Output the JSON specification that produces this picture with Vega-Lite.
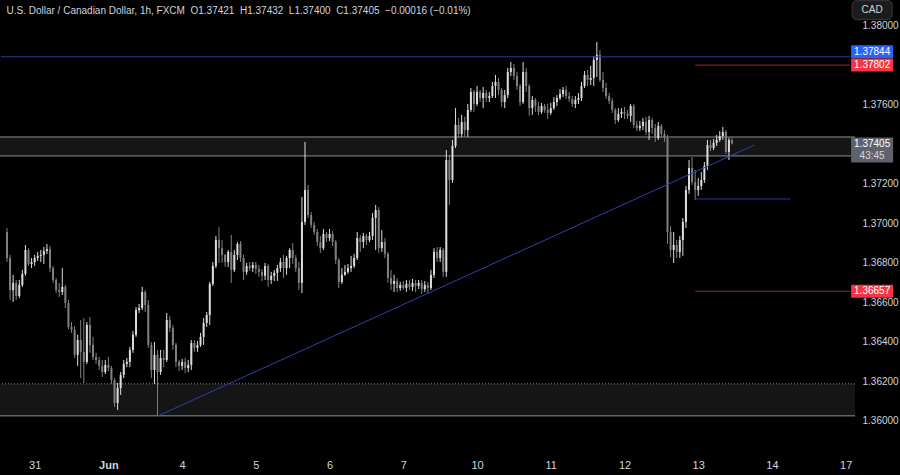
{
"$schema": "https://vega.github.io/schema/vega-lite/v6.json",
"width": 855, "height": 450,
"autosize": {"type": "none"},
"padding": {"left": 0, "top": 0, "right": 45, "bottom": 25},
"background": "#000000",
"config": {"view": {"stroke": null}, "font": "Liberation Sans", "axis": {"labelFont": "Liberation Sans"}},
"title": {"text": "U.S. Dollar / Canadian Dollar, 1h, FXCM \u00a0O1.37421 \u00a0H1.37432 \u00a0L1.37400 \u00a0C1.37405 \u00a0\u22120.00016 (\u22120.01%)", "anchor": "start", "orient": "top", "offset": -16, "dx": 7, "fontSize": 10, "fontWeight": "normal", "color": "#d1d4dc", "font": "Liberation Sans"},
"datasets": {
"candles": [
{"t":-9,"o":1.36957,"h":1.36977,"l":1.36805,"c":1.36825},
{"t":-8,"o":1.36825,"h":1.36841,"l":1.36613,"c":1.36663},
{"t":-7,"o":1.36663,"h":1.36740,"l":1.36603,"c":1.36699},
{"t":-6,"o":1.36699,"h":1.36714,"l":1.36613,"c":1.36633},
{"t":-5,"o":1.36633,"h":1.36714,"l":1.36622,"c":1.36689},
{"t":-4,"o":1.36689,"h":1.36765,"l":1.36679,"c":1.36745},
{"t":-3,"o":1.36745,"h":1.36891,"l":1.36735,"c":1.36866},
{"t":-2,"o":1.36866,"h":1.36875,"l":1.36785,"c":1.36795},
{"t":-1,"o":1.36795,"h":1.36825,"l":1.36774,"c":1.36805},
{"t":0,"o":1.36805,"h":1.36841,"l":1.36785,"c":1.36825},
{"t":1,"o":1.36825,"h":1.36856,"l":1.36810,"c":1.36836},
{"t":2,"o":1.36836,"h":1.36866,"l":1.36805,"c":1.36841},
{"t":3,"o":1.36841,"h":1.36881,"l":1.36795,"c":1.36861},
{"t":4,"o":1.36861,"h":1.36896,"l":1.36846,"c":1.36870},
{"t":5,"o":1.36870,"h":1.36886,"l":1.36755,"c":1.36774},
{"t":6,"o":1.36774,"h":1.36785,"l":1.36699,"c":1.36714},
{"t":7,"o":1.36714,"h":1.36724,"l":1.36648,"c":1.36663},
{"t":8,"o":1.36663,"h":1.36699,"l":1.36628,"c":1.36653},
{"t":9,"o":1.36653,"h":1.36774,"l":1.36638,"c":1.36679},
{"t":10,"o":1.36679,"h":1.36689,"l":1.36572,"c":1.36598},
{"t":11,"o":1.36598,"h":1.36613,"l":1.36465,"c":1.36476},
{"t":12,"o":1.36476,"h":1.36501,"l":1.36446,"c":1.36461},
{"t":13,"o":1.36461,"h":1.36481,"l":1.36319,"c":1.36335},
{"t":14,"o":1.36335,"h":1.36436,"l":1.36279,"c":1.36410},
{"t":15,"o":1.36410,"h":1.36511,"l":1.36217,"c":1.36350},
{"t":16,"o":1.36350,"h":1.36521,"l":1.36193,"c":1.36299},
{"t":17,"o":1.36299,"h":1.36501,"l":1.36289,"c":1.36486},
{"t":18,"o":1.36486,"h":1.36527,"l":1.36345,"c":1.36385},
{"t":19,"o":1.36385,"h":1.36426,"l":1.36309,"c":1.36324},
{"t":20,"o":1.36324,"h":1.36345,"l":1.36289,"c":1.36309},
{"t":21,"o":1.36309,"h":1.36324,"l":1.36258,"c":1.36279},
{"t":22,"o":1.36279,"h":1.36309,"l":1.36223,"c":1.36248},
{"t":23,"o":1.36248,"h":1.36309,"l":1.36238,"c":1.36284},
{"t":24,"o":1.36284,"h":1.36324,"l":1.36253,"c":1.36268},
{"t":25,"o":1.36268,"h":1.36279,"l":1.36188,"c":1.36208},
{"t":26,"o":1.36208,"h":1.36217,"l":1.36071,"c":1.36091},
{"t":27,"o":1.36091,"h":1.36193,"l":1.36056,"c":1.36167},
{"t":28,"o":1.36167,"h":1.36248,"l":1.36132,"c":1.36233},
{"t":29,"o":1.36233,"h":1.36309,"l":1.36217,"c":1.36289},
{"t":30,"o":1.36289,"h":1.36319,"l":1.36273,"c":1.36299},
{"t":31,"o":1.36299,"h":1.36375,"l":1.36273,"c":1.36360},
{"t":32,"o":1.36360,"h":1.36456,"l":1.36345,"c":1.36436},
{"t":33,"o":1.36436,"h":1.36577,"l":1.36426,"c":1.36562},
{"t":34,"o":1.36562,"h":1.36593,"l":1.36547,"c":1.36572},
{"t":35,"o":1.36572,"h":1.36679,"l":1.36562,"c":1.36653},
{"t":36,"o":1.36653,"h":1.36663,"l":1.36552,"c":1.36588},
{"t":37,"o":1.36588,"h":1.36613,"l":1.36370,"c":1.36385},
{"t":38,"o":1.36385,"h":1.36400,"l":1.36217,"c":1.36258},
{"t":39,"o":1.36258,"h":1.36400,"l":1.36188,"c":1.36335},
{"t":40,"o":1.36335,"h":1.36360,"l":1.36026,"c":1.36248},
{"t":41,"o":1.36248,"h":1.36360,"l":1.36233,"c":1.36319},
{"t":42,"o":1.36319,"h":1.36360,"l":1.36273,"c":1.36309},
{"t":43,"o":1.36309,"h":1.36547,"l":1.36299,"c":1.36511},
{"t":44,"o":1.36511,"h":1.36532,"l":1.36451,"c":1.36471},
{"t":45,"o":1.36471,"h":1.36486,"l":1.36360,"c":1.36385},
{"t":46,"o":1.36385,"h":1.36395,"l":1.36273,"c":1.36299},
{"t":47,"o":1.36299,"h":1.36309,"l":1.36253,"c":1.36279},
{"t":48,"o":1.36279,"h":1.36314,"l":1.36258,"c":1.36299},
{"t":49,"o":1.36299,"h":1.36319,"l":1.36243,"c":1.36268},
{"t":50,"o":1.36268,"h":1.36309,"l":1.36248,"c":1.36284},
{"t":51,"o":1.36284,"h":1.36410,"l":1.36258,"c":1.36395},
{"t":52,"o":1.36395,"h":1.36410,"l":1.36350,"c":1.36370},
{"t":53,"o":1.36370,"h":1.36405,"l":1.36350,"c":1.36385},
{"t":54,"o":1.36385,"h":1.36446,"l":1.36375,"c":1.36426},
{"t":55,"o":1.36426,"h":1.36521,"l":1.36385,"c":1.36496},
{"t":56,"o":1.36496,"h":1.36552,"l":1.36476,"c":1.36537},
{"t":57,"o":1.36537,"h":1.36704,"l":1.36486,"c":1.36694},
{"t":58,"o":1.36694,"h":1.36805,"l":1.36684,"c":1.36785},
{"t":59,"o":1.36785,"h":1.36937,"l":1.36774,"c":1.36916},
{"t":60,"o":1.36916,"h":1.36982,"l":1.36800,"c":1.36875},
{"t":61,"o":1.36875,"h":1.36916,"l":1.36800,"c":1.36841},
{"t":62,"o":1.36841,"h":1.36846,"l":1.36780,"c":1.36805},
{"t":63,"o":1.36805,"h":1.36866,"l":1.36780,"c":1.36856},
{"t":64,"o":1.36856,"h":1.36942,"l":1.36699,"c":1.36765},
{"t":65,"o":1.36765,"h":1.36866,"l":1.36755,"c":1.36841},
{"t":66,"o":1.36841,"h":1.36906,"l":1.36815,"c":1.36896},
{"t":67,"o":1.36896,"h":1.36911,"l":1.36805,"c":1.36825},
{"t":68,"o":1.36825,"h":1.36841,"l":1.36714,"c":1.36755},
{"t":69,"o":1.36755,"h":1.36800,"l":1.36740,"c":1.36785},
{"t":70,"o":1.36785,"h":1.36805,"l":1.36760,"c":1.36774},
{"t":71,"o":1.36774,"h":1.36805,"l":1.36755,"c":1.36790},
{"t":72,"o":1.36790,"h":1.36805,"l":1.36745,"c":1.36769},
{"t":73,"o":1.36769,"h":1.36790,"l":1.36730,"c":1.36755},
{"t":74,"o":1.36755,"h":1.36769,"l":1.36709,"c":1.36735},
{"t":75,"o":1.36735,"h":1.36800,"l":1.36714,"c":1.36785},
{"t":76,"o":1.36785,"h":1.36795,"l":1.36679,"c":1.36714},
{"t":77,"o":1.36714,"h":1.36755,"l":1.36694,"c":1.36735},
{"t":78,"o":1.36735,"h":1.36765,"l":1.36709,"c":1.36750},
{"t":79,"o":1.36750,"h":1.36790,"l":1.36709,"c":1.36774},
{"t":80,"o":1.36774,"h":1.36825,"l":1.36755,"c":1.36805},
{"t":81,"o":1.36805,"h":1.36841,"l":1.36724,"c":1.36774},
{"t":82,"o":1.36774,"h":1.36836,"l":1.36740,"c":1.36825},
{"t":83,"o":1.36825,"h":1.36875,"l":1.36774,"c":1.36866},
{"t":84,"o":1.36866,"h":1.36901,"l":1.36795,"c":1.36825},
{"t":85,"o":1.36825,"h":1.36841,"l":1.36755,"c":1.36774},
{"t":86,"o":1.36774,"h":1.36805,"l":1.36663,"c":1.36699},
{"t":87,"o":1.36699,"h":1.37134,"l":1.36648,"c":1.37008},
{"t":88,"o":1.37008,"h":1.37413,"l":1.36993,"c":1.37170},
{"t":89,"o":1.37170,"h":1.37195,"l":1.37028,"c":1.37043},
{"t":90,"o":1.37043,"h":1.37058,"l":1.36977,"c":1.36993},
{"t":91,"o":1.36993,"h":1.37008,"l":1.36942,"c":1.36957},
{"t":92,"o":1.36957,"h":1.36972,"l":1.36886,"c":1.36906},
{"t":93,"o":1.36906,"h":1.36937,"l":1.36851,"c":1.36875},
{"t":94,"o":1.36875,"h":1.36972,"l":1.36866,"c":1.36947},
{"t":95,"o":1.36947,"h":1.36957,"l":1.36906,"c":1.36926},
{"t":96,"o":1.36926,"h":1.36972,"l":1.36911,"c":1.36947},
{"t":97,"o":1.36947,"h":1.36962,"l":1.36886,"c":1.36906},
{"t":98,"o":1.36906,"h":1.36916,"l":1.36795,"c":1.36815},
{"t":99,"o":1.36815,"h":1.36825,"l":1.36673,"c":1.36704},
{"t":100,"o":1.36704,"h":1.36774,"l":1.36694,"c":1.36740},
{"t":101,"o":1.36740,"h":1.36790,"l":1.36735,"c":1.36755},
{"t":102,"o":1.36755,"h":1.36795,"l":1.36745,"c":1.36774},
{"t":103,"o":1.36774,"h":1.36836,"l":1.36755,"c":1.36785},
{"t":104,"o":1.36785,"h":1.36846,"l":1.36774,"c":1.36825},
{"t":105,"o":1.36825,"h":1.36957,"l":1.36815,"c":1.36926},
{"t":106,"o":1.36926,"h":1.36942,"l":1.36856,"c":1.36906},
{"t":107,"o":1.36906,"h":1.36952,"l":1.36875,"c":1.36937},
{"t":108,"o":1.36937,"h":1.36947,"l":1.36891,"c":1.36916},
{"t":109,"o":1.36916,"h":1.36957,"l":1.36906,"c":1.36937},
{"t":110,"o":1.36937,"h":1.37053,"l":1.36916,"c":1.37028},
{"t":111,"o":1.37028,"h":1.37094,"l":1.36866,"c":1.37068},
{"t":112,"o":1.37068,"h":1.37083,"l":1.36851,"c":1.36875},
{"t":113,"o":1.36875,"h":1.36967,"l":1.36856,"c":1.36906},
{"t":114,"o":1.36906,"h":1.36926,"l":1.36825,"c":1.36846},
{"t":115,"o":1.36846,"h":1.36856,"l":1.36699,"c":1.36724},
{"t":116,"o":1.36724,"h":1.36765,"l":1.36663,"c":1.36694},
{"t":117,"o":1.36694,"h":1.36740,"l":1.36653,"c":1.36709},
{"t":118,"o":1.36709,"h":1.36724,"l":1.36653,"c":1.36673},
{"t":119,"o":1.36673,"h":1.36704,"l":1.36658,"c":1.36689},
{"t":120,"o":1.36689,"h":1.36709,"l":1.36663,"c":1.36673},
{"t":121,"o":1.36673,"h":1.36714,"l":1.36653,"c":1.36694},
{"t":122,"o":1.36694,"h":1.36714,"l":1.36663,"c":1.36679},
{"t":123,"o":1.36679,"h":1.36719,"l":1.36658,"c":1.36699},
{"t":124,"o":1.36699,"h":1.36714,"l":1.36653,"c":1.36684},
{"t":125,"o":1.36684,"h":1.36714,"l":1.36668,"c":1.36699},
{"t":126,"o":1.36699,"h":1.36714,"l":1.36643,"c":1.36668},
{"t":127,"o":1.36668,"h":1.36709,"l":1.36653,"c":1.36689},
{"t":128,"o":1.36689,"h":1.36704,"l":1.36643,"c":1.36673},
{"t":129,"o":1.36673,"h":1.36765,"l":1.36663,"c":1.36740},
{"t":130,"o":1.36740,"h":1.36875,"l":1.36724,"c":1.36856},
{"t":131,"o":1.36856,"h":1.36881,"l":1.36805,"c":1.36825},
{"t":132,"o":1.36825,"h":1.36881,"l":1.36805,"c":1.36866},
{"t":133,"o":1.36866,"h":1.36875,"l":1.36730,"c":1.36755},
{"t":134,"o":1.36755,"h":1.37372,"l":1.36730,"c":1.37321},
{"t":135,"o":1.37321,"h":1.37347,"l":1.37094,"c":1.37220},
{"t":136,"o":1.37220,"h":1.37423,"l":1.37205,"c":1.37393},
{"t":137,"o":1.37393,"h":1.37585,"l":1.37382,"c":1.37499},
{"t":138,"o":1.37499,"h":1.37534,"l":1.37433,"c":1.37453},
{"t":139,"o":1.37453,"h":1.37550,"l":1.37438,"c":1.37514},
{"t":140,"o":1.37514,"h":1.37540,"l":1.37438,"c":1.37473},
{"t":141,"o":1.37473,"h":1.37605,"l":1.37438,"c":1.37575},
{"t":142,"o":1.37575,"h":1.37686,"l":1.37565,"c":1.37666},
{"t":143,"o":1.37666,"h":1.37676,"l":1.37565,"c":1.37605},
{"t":144,"o":1.37605,"h":1.37696,"l":1.37595,"c":1.37666},
{"t":145,"o":1.37666,"h":1.37676,"l":1.37615,"c":1.37635},
{"t":146,"o":1.37635,"h":1.37691,"l":1.37584,"c":1.37661},
{"t":147,"o":1.37661,"h":1.37676,"l":1.37615,"c":1.37635},
{"t":148,"o":1.37635,"h":1.37666,"l":1.37615,"c":1.37645},
{"t":149,"o":1.37645,"h":1.37717,"l":1.37635,"c":1.37696},
{"t":150,"o":1.37696,"h":1.37752,"l":1.37635,"c":1.37717},
{"t":151,"o":1.37717,"h":1.37737,"l":1.37650,"c":1.37676},
{"t":152,"o":1.37676,"h":1.37686,"l":1.37590,"c":1.37615},
{"t":153,"o":1.37615,"h":1.37676,"l":1.37584,"c":1.37650},
{"t":154,"o":1.37650,"h":1.37787,"l":1.37635,"c":1.37767},
{"t":155,"o":1.37767,"h":1.37818,"l":1.37747,"c":1.37787},
{"t":156,"o":1.37787,"h":1.37808,"l":1.37727,"c":1.37747},
{"t":157,"o":1.37747,"h":1.37767,"l":1.37676,"c":1.37696},
{"t":158,"o":1.37696,"h":1.37706,"l":1.37595,"c":1.37615},
{"t":159,"o":1.37615,"h":1.37818,"l":1.37605,"c":1.37767},
{"t":160,"o":1.37767,"h":1.37787,"l":1.37666,"c":1.37696},
{"t":161,"o":1.37696,"h":1.37706,"l":1.37545,"c":1.37584},
{"t":162,"o":1.37584,"h":1.37645,"l":1.37550,"c":1.37625},
{"t":163,"o":1.37625,"h":1.37635,"l":1.37565,"c":1.37595},
{"t":164,"o":1.37595,"h":1.37615,"l":1.37550,"c":1.37565},
{"t":165,"o":1.37565,"h":1.37610,"l":1.37555,"c":1.37595},
{"t":166,"o":1.37595,"h":1.37605,"l":1.37560,"c":1.37575},
{"t":167,"o":1.37575,"h":1.37605,"l":1.37529,"c":1.37560},
{"t":168,"o":1.37560,"h":1.37610,"l":1.37550,"c":1.37584},
{"t":169,"o":1.37584,"h":1.37640,"l":1.37575,"c":1.37615},
{"t":170,"o":1.37615,"h":1.37650,"l":1.37595,"c":1.37635},
{"t":171,"o":1.37635,"h":1.37681,"l":1.37625,"c":1.37656},
{"t":172,"o":1.37656,"h":1.37691,"l":1.37640,"c":1.37676},
{"t":173,"o":1.37676,"h":1.37696,"l":1.37630,"c":1.37645},
{"t":174,"o":1.37645,"h":1.37666,"l":1.37615,"c":1.37630},
{"t":175,"o":1.37630,"h":1.37645,"l":1.37590,"c":1.37605},
{"t":176,"o":1.37605,"h":1.37645,"l":1.37584,"c":1.37625},
{"t":177,"o":1.37625,"h":1.37661,"l":1.37605,"c":1.37635},
{"t":178,"o":1.37635,"h":1.37717,"l":1.37620,"c":1.37696},
{"t":179,"o":1.37696,"h":1.37772,"l":1.37686,"c":1.37752},
{"t":180,"o":1.37752,"h":1.37777,"l":1.37696,"c":1.37727},
{"t":181,"o":1.37727,"h":1.37798,"l":1.37701,"c":1.37737},
{"t":182,"o":1.37737,"h":1.37848,"l":1.37696,"c":1.37828},
{"t":183,"o":1.37828,"h":1.37919,"l":1.37742,"c":1.37853},
{"t":184,"o":1.37853,"h":1.37878,"l":1.37717,"c":1.37727},
{"t":185,"o":1.37727,"h":1.37767,"l":1.37666,"c":1.37686},
{"t":186,"o":1.37686,"h":1.37712,"l":1.37630,"c":1.37645},
{"t":187,"o":1.37645,"h":1.37661,"l":1.37605,"c":1.37620},
{"t":188,"o":1.37620,"h":1.37635,"l":1.37560,"c":1.37575},
{"t":189,"o":1.37575,"h":1.37584,"l":1.37504,"c":1.37524},
{"t":190,"o":1.37524,"h":1.37584,"l":1.37514,"c":1.37555},
{"t":191,"o":1.37555,"h":1.37584,"l":1.37534,"c":1.37565},
{"t":192,"o":1.37565,"h":1.37590,"l":1.37529,"c":1.37555},
{"t":193,"o":1.37555,"h":1.37575,"l":1.37529,"c":1.37545},
{"t":194,"o":1.37545,"h":1.37605,"l":1.37514,"c":1.37595},
{"t":195,"o":1.37595,"h":1.37605,"l":1.37483,"c":1.37499},
{"t":196,"o":1.37499,"h":1.37519,"l":1.37468,"c":1.37483},
{"t":197,"o":1.37483,"h":1.37519,"l":1.37468,"c":1.37494},
{"t":198,"o":1.37494,"h":1.37534,"l":1.37473,"c":1.37514},
{"t":199,"o":1.37514,"h":1.37540,"l":1.37448,"c":1.37463},
{"t":200,"o":1.37463,"h":1.37545,"l":1.37423,"c":1.37524},
{"t":201,"o":1.37524,"h":1.37534,"l":1.37453,"c":1.37483},
{"t":202,"o":1.37483,"h":1.37504,"l":1.37413,"c":1.37433},
{"t":203,"o":1.37433,"h":1.37514,"l":1.37423,"c":1.37494},
{"t":204,"o":1.37494,"h":1.37504,"l":1.37433,"c":1.37453},
{"t":205,"o":1.37453,"h":1.37473,"l":1.37413,"c":1.37433},
{"t":206,"o":1.37433,"h":1.37448,"l":1.36896,"c":1.36957},
{"t":207,"o":1.36957,"h":1.36987,"l":1.36830,"c":1.36866},
{"t":208,"o":1.36866,"h":1.36957,"l":1.36800,"c":1.36891},
{"t":209,"o":1.36891,"h":1.36916,"l":1.36825,"c":1.36856},
{"t":210,"o":1.36856,"h":1.36937,"l":1.36825,"c":1.36916},
{"t":211,"o":1.36916,"h":1.37028,"l":1.36836,"c":1.37008},
{"t":212,"o":1.37008,"h":1.37190,"l":1.36977,"c":1.37170},
{"t":213,"o":1.37170,"h":1.37321,"l":1.37150,"c":1.37281},
{"t":214,"o":1.37281,"h":1.37336,"l":1.37195,"c":1.37210},
{"t":215,"o":1.37210,"h":1.37271,"l":1.37119,"c":1.37170},
{"t":216,"o":1.37170,"h":1.37230,"l":1.37140,"c":1.37190},
{"t":217,"o":1.37190,"h":1.37261,"l":1.37170,"c":1.37220},
{"t":218,"o":1.37220,"h":1.37311,"l":1.37205,"c":1.37291},
{"t":219,"o":1.37291,"h":1.37423,"l":1.37271,"c":1.37397},
{"t":220,"o":1.37397,"h":1.37423,"l":1.37367,"c":1.37382},
{"t":221,"o":1.37382,"h":1.37428,"l":1.37372,"c":1.37408},
{"t":222,"o":1.37408,"h":1.37448,"l":1.37392,"c":1.37423},
{"t":223,"o":1.37423,"h":1.37468,"l":1.37413,"c":1.37443},
{"t":224,"o":1.37443,"h":1.37489,"l":1.37423,"c":1.37463},
{"t":225,"o":1.37463,"h":1.37473,"l":1.37352,"c":1.37362},
{"t":226,"o":1.37362,"h":1.37433,"l":1.37321,"c":1.37423},
{"t":227,"o":1.37421,"h":1.37432,"l":1.37400,"c":1.37405}
],
"zones": [{"lo":1.37342,"hi":1.37438},{"lo":1.36026,"hi":1.36188}],
"zoneEdges": [{"price":1.37438,"edge":"solid"},{"price":1.37342,"edge":"solid"},{"price":1.36188,"edge":"dotted"},{"price":1.36026,"edge":"solid"}],
"levels": [
{"price":1.37844,"from":-11,"to":265.4,"role":"high"},
{"price":1.37802,"from":215,"to":265.4,"role":"target"},
{"price":1.36657,"from":215,"to":265.4,"role":"target"},
{"price":1.37124,"from":215,"to":246,"role":"low"}
],
"trend": [{"t1":40.2,"p1":1.36026,"t2":234.2,"p2":1.37397}],
"tags": [
{"price":1.37844,"text":"1.37844","role":"high"},
{"price":1.37802,"text":"1.37802","role":"target"},
{"price":1.36657,"text":"1.36657","role":"target"}
],
"last": [{"price":1.37405,"text":"1.37405","timer":"43:45"}],
"currency": [{"text":"CAD"}]
},
"layer": [
{"data": {"name": "zones"}, "mark": {"type": "rect", "color": "#151515"},
 "encoding": {"y": {"field": "lo", "type": "quantitative", "title": null, "scale": {"domain": [1.358531, 1.381315], "zero": false, "nice": false}}, "y2": {"field": "hi"}}},
{"data": {"name": "zoneEdges"}, "mark": {"type": "rule", "strokeWidth": 1, "color": "#8f8f8f"},
 "encoding": {"y": {"field": "price", "type": "quantitative", "title": null, "scale": {"domain": [1.358531, 1.381315], "zero": false, "nice": false}},
  "strokeDash": {"field": "edge", "type": "nominal", "scale": {"domain": ["solid", "dotted"], "range": [[1, 0], [1, 2]]}, "legend": null}}},
{"data": {"name": "candles"}, "mark": {"type": "rule", "strokeWidth": 1},
 "encoding": {
  "x": {"field": "t", "type": "quantitative", "title": null, "scale": {"domain": [-9.65, 265.4], "zero": false, "nice": false},
   "axis": {"values": [0, 24, 48, 72, 96, 120, 144, 168, 192, 216, 240, 264], "labelExpr": "['31','Jun','4','5','6','7','10','11','12','13','14','17'][round(datum.value/24)]", "grid": false, "domain": false, "ticks": false, "labelColor": "#d1d4dc", "labelFontSize": 11, "labelPadding": 9, "labelFlush": false, "labelOverlap": false, "labelFontWeight": {"condition": {"test": "datum.value == 24", "value": "bold"}, "value": "normal"}, "title": null}},
  "y": {"field": "l", "type": "quantitative", "title": null, "scale": {"domain": [1.358531, 1.381315], "zero": false, "nice": false},
   "axis": {"orient": "right", "values": [1.36, 1.362, 1.364, 1.366, 1.368, 1.37, 1.372, 1.376, 1.38], "format": ".5f", "grid": false, "domain": false, "ticks": false, "labelColor": "#d1d4dc", "labelFontSize": 10, "labelPadding": 7, "labelFlush": false, "labelOverlap": false, "title": null}},
  "y2": {"field": "h"},
  "color": {"condition": {"test": "datum.c >= datum.o", "value": "#dcdcdc"}, "value": "#808080"}}},
{"data": {"name": "candles"}, "mark": {"type": "bar", "width": 2},
 "encoding": {
  "x": {"field": "t", "type": "quantitative", "title": null, "scale": {"domain": [-9.65, 265.4], "zero": false, "nice": false}},
  "y": {"field": "o", "type": "quantitative", "title": null, "scale": {"domain": [1.358531, 1.381315], "zero": false, "nice": false}},
  "y2": {"field": "c"},
  "color": {"condition": {"test": "datum.c >= datum.o", "value": "#dcdcdc"}, "value": "#808080"}}},
{"data": {"name": "levels"}, "mark": {"type": "rule", "strokeWidth": 1},
 "encoding": {
  "x": {"field": "from", "type": "quantitative", "title": null, "scale": {"domain": [-9.65, 265.4], "zero": false, "nice": false}},
  "x2": {"field": "to"},
  "y": {"field": "price", "type": "quantitative", "title": null, "scale": {"domain": [1.358531, 1.381315], "zero": false, "nice": false}},
  "color": {"field": "role", "type": "nominal", "scale": {"domain": ["high", "target", "low", "last"], "range": ["#2c3a96", "#9b2a30", "#2c3a96", "#5f626d"]}, "legend": null}}},
{"data": {"name": "trend"}, "mark": {"type": "rule", "strokeWidth": 1, "color": "#2f40a8"},
 "encoding": {
  "x": {"field": "t1", "type": "quantitative", "title": null, "scale": {"domain": [-9.65, 265.4], "zero": false, "nice": false}},
  "x2": {"field": "t2"},
  "y": {"field": "p1", "type": "quantitative", "title": null, "scale": {"domain": [1.358531, 1.381315], "zero": false, "nice": false}},
  "y2": {"field": "p2"}}},
{"data": {"name": "tags"},
 "encoding": {
  "x": {"datum": 272.6, "type": "quantitative", "scale": {"domain": [-9.65, 265.4], "zero": false, "nice": false}},
  "y": {"field": "price", "type": "quantitative", "title": null, "scale": {"domain": [1.358531, 1.381315], "zero": false, "nice": false}}},
 "layer": [
  {"transform": [{"filter": "datum.role === 'high'"}], "mark": {"type": "tick", "orient": "horizontal", "size": 42, "thickness": 13, "color": "#2962ff", "opacity": 1, "yOffset": -5, "cornerRadius": 1}},
  {"transform": [{"filter": "datum.role !== 'high'"}], "mark": {"type": "tick", "orient": "horizontal", "size": 42, "thickness": 13, "color": "#f23645", "opacity": 1, "cornerRadius": 1}},
  {"transform": [{"filter": "datum.role === 'high'"}], "mark": {"type": "text", "color": "#ffffff", "fontSize": 10, "align": "center", "baseline": "middle", "yOffset": -5}, "encoding": {"text": {"field": "text"}}},
  {"transform": [{"filter": "datum.role !== 'high'"}], "mark": {"type": "text", "color": "#ffffff", "fontSize": 10, "align": "center", "baseline": "middle"}, "encoding": {"text": {"field": "text"}}}
 ]},
{"data": {"name": "last"},
 "encoding": {
  "x": {"datum": 272.6, "type": "quantitative", "scale": {"domain": [-9.65, 265.4], "zero": false, "nice": false}},
  "y": {"field": "price", "type": "quantitative", "title": null, "scale": {"domain": [1.358531, 1.381315], "zero": false, "nice": false}}},
 "layer": [
  {"mark": {"type": "tick", "orient": "horizontal", "size": 42, "thickness": 25, "color": "#5f626d", "opacity": 1, "yOffset": 6.5, "cornerRadius": 1}},
  {"mark": {"type": "text", "color": "#ffffff", "fontSize": 10, "align": "center", "baseline": "middle", "yOffset": 0.5}, "encoding": {"text": {"field": "text"}}},
  {"mark": {"type": "text", "color": "#d8d8d8", "fontSize": 10, "align": "center", "baseline": "middle", "yOffset": 13}, "encoding": {"text": {"field": "timer"}}}
 ]},
{"data": {"name": "currency"},
 "encoding": {
  "x": {"datum": 272.6, "type": "quantitative", "scale": {"domain": [-9.65, 265.4], "zero": false, "nice": false}},
  "y": {"datum": 1.3808, "type": "quantitative", "scale": {"domain": [1.358531, 1.381315], "zero": false, "nice": false}}},
 "layer": [
  {"mark": {"type": "tick", "orient": "horizontal", "size": 40, "thickness": 19, "color": "#1c1c1e", "opacity": 1, "cornerRadius": 4, "stroke": "#3a3a3e", "strokeWidth": 1}},
  {"mark": {"type": "text", "color": "#d1d4dc", "fontSize": 10, "align": "center", "baseline": "middle"}, "encoding": {"text": {"field": "text"}}}
 ]}
]
}
